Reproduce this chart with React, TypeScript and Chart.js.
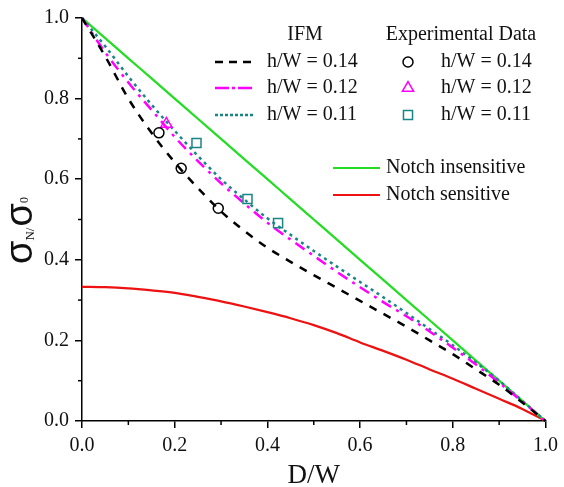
import React, { useEffect, useRef } from "react";
import { Chart, registerables } from "chart.js";

Chart.register(...registerables);

// ---- data ----
const xIFM = [0, 0.05, 0.1, 0.15, 0.2, 0.25, 0.3, 0.35, 0.4, 0.45, 0.5, 0.55, 0.6, 0.65, 0.7, 0.75, 0.8, 0.85, 0.9, 0.95, 1.0];
const yIFM014 = [1.0, 0.905, 0.8, 0.715, 0.642, 0.578, 0.52, 0.472, 0.43, 0.395, 0.362, 0.33, 0.298, 0.266, 0.234, 0.2, 0.166, 0.128, 0.09, 0.046, 0.0];
const yIFM012 = [1.0, 0.915, 0.84, 0.772, 0.705, 0.645, 0.59, 0.54, 0.492, 0.45, 0.41, 0.37, 0.332, 0.295, 0.26, 0.222, 0.182, 0.14, 0.095, 0.048, 0.0];
const yIFM011 = [1.0, 0.93, 0.855, 0.785, 0.72, 0.658, 0.6, 0.55, 0.503, 0.462, 0.422, 0.383, 0.345, 0.307, 0.268, 0.228, 0.188, 0.145, 0.1, 0.05, 0.0];
const xNotch = [0, 0.05, 0.1, 0.15, 0.2, 0.25, 0.3, 0.35, 0.4, 0.45, 0.5, 0.55, 0.6, 0.65, 0.7, 0.75, 0.8, 0.85, 0.9, 0.95, 1.0];
const yInsensitive = [1.0, 0.95, 0.9, 0.85, 0.8, 0.75, 0.7, 0.65, 0.6, 0.55, 0.5, 0.45, 0.4, 0.35, 0.3, 0.25, 0.2, 0.15, 0.1, 0.05, 0.0];
const ySensitive = [0.333, 0.332, 0.329, 0.324, 0.318, 0.308, 0.297, 0.284, 0.27, 0.255, 0.238, 0.218, 0.195, 0.174, 0.152, 0.128, 0.105, 0.08, 0.055, 0.03, 0.0];

const xExp014 = [0.166, 0.214, 0.294];
const yExp014 = [0.715, 0.627, 0.528];
const xExp012 = [0.182];
const yExp012 = [0.737];
const xExp011 = [0.247, 0.357, 0.423];
const yExp011 = [0.69, 0.551, 0.491];

const xTicks = [0, 0.2, 0.4, 0.6, 0.8, 1.0];
const yTicks = [0, 0.2, 0.4, 0.6, 0.8, 1.0];
const minorTicks = [0.1, 0.3, 0.5, 0.7, 0.9];

const ifmLabels = ["h/W = 0.14", "h/W = 0.12", "h/W = 0.11"];
const expLabels = ["h/W = 0.14", "h/W = 0.12", "h/W = 0.11"];
const notchLabels = ["Notch insensitive", "Notch sensitive"];

const pts = (xs: number[], ys: number[]) => xs.map((x, i) => ({ x, y: ys[i] }));

const BLACK = "#000000";
const MAGENTA = "#ff00ff";
const TEAL = "#1a8585";
const GREEN = "#22dd22";
const RED = "#ee1111";

const SERIF = "'Liberation Serif', 'Times New Roman', serif";
const SANS = "'Liberation Sans', Arial, sans-serif";

const lineStyles = [
  { color: BLACK, dash: [8, 8], legendDash: [8, 6] },
  { color: MAGENTA, dash: [11, 6, 3, 6], legendDash: [14, 3, 3, 3] },
  { color: TEAL, dash: [3, 4], legendDash: [3, 2] },
];
const markerStyles = [
  { color: BLACK, shape: "circle", r: 5 },
  { color: MAGENTA, shape: "triangle", r: 6.5 },
  { color: TEAL, shape: "rect", r: 6.4 },
];

function drawMarker(ctx: CanvasRenderingContext2D, shape: string, x: number, y: number, r: number) {
  ctx.beginPath();
  if (shape === "circle") {
    ctx.arc(x, y, r, 0, Math.PI * 2);
  } else if (shape === "triangle") {
    for (let i = 0; i < 3; i++) {
      const a = -Math.PI / 2 + (i * 2 * Math.PI) / 3;
      const px = x + Math.cos(a) * r;
      const py = y + Math.sin(a) * r;
      if (i === 0) ctx.moveTo(px, py);
      else ctx.lineTo(px, py);
    }
    ctx.closePath();
  } else {
    const s = Math.SQRT1_2 * r;
    ctx.rect(x - s, y - s, 2 * s, 2 * s);
  }
  ctx.stroke();
}

const decorPlugin = {
  id: "decor",
  afterDraw(chart: any) {
    const ctx: CanvasRenderingContext2D = chart.ctx;
    const xs = chart.scales.x;
    const ys = chart.scales.y;
    ctx.save();
    // minor ticks
    ctx.strokeStyle = "#000";
    ctx.lineWidth = 1.5;
    minorTicks.forEach((v) => {
      const px = xs.getPixelForValue(v);
      ctx.beginPath();
      ctx.moveTo(px, xs.top);
      ctx.lineTo(px, xs.top + 4);
      ctx.stroke();
      const py = ys.getPixelForValue(v);
      ctx.beginPath();
      ctx.moveTo(ys.right, py);
      ctx.lineTo(ys.right - 4, py);
      ctx.stroke();
    });

    // legend
    ctx.font = `20px ${SERIF}`;
    ctx.fillStyle = "#111";
    ctx.textBaseline = "middle";
    ctx.textAlign = "center";
    ctx.fillText("IFM", 305, 35);
    ctx.fillText("Experimental Data", 461, 35);
    ctx.textAlign = "left";
    const rows = [62, 88, 115];
    rows.forEach((ry, i) => {
      ctx.save();
      ctx.strokeStyle = lineStyles[i].color;
      ctx.lineWidth = 2.5;
      ctx.setLineDash(lineStyles[i].legendDash);
      ctx.beginPath();
      ctx.moveTo(215, ry);
      ctx.lineTo(253, ry);
      ctx.stroke();
      ctx.restore();
      ctx.fillText(ifmLabels[i], 267, ry);
      ctx.save();
      ctx.strokeStyle = markerStyles[i].color;
      ctx.lineWidth = 1.5;
      drawMarker(ctx, markerStyles[i].shape, 408, ry, markerStyles[i].r);
      ctx.restore();
      ctx.fillText(expLabels[i], 441, ry);
    });
    const nrows = [168, 195];
    const ncolors = [GREEN, RED];
    nrows.forEach((ry, i) => {
      ctx.save();
      ctx.strokeStyle = ncolors[i];
      ctx.lineWidth = 2;
      ctx.beginPath();
      ctx.moveTo(333, ry);
      ctx.lineTo(380, ry);
      ctx.stroke();
      ctx.restore();
      ctx.fillText(notchLabels[i], 386, ry);
    });

    // y title: σN/σ0
    ctx.save();
    ctx.translate(32, 264);
    ctx.rotate(-Math.PI / 2);
    ctx.textAlign = "left";
    ctx.textBaseline = "alphabetic";
    ctx.fillStyle = "#111";
    let cx = 0;
    ctx.font = `38px ${SANS}`;
    ctx.fillText("σ", cx, 0);
    cx += ctx.measureText("σ").width;
    ctx.font = `13px ${SERIF}`;
    ctx.fillText("N/", cx, 2);
    cx += ctx.measureText("N/").width + 1;
    ctx.font = `38px ${SANS}`;
    ctx.fillText("σ", cx, 0);
    cx += ctx.measureText("σ").width;
    ctx.font = `12px ${SERIF}`;
    ctx.fillText("0", cx, -4);
    ctx.restore();

    ctx.restore();
  },
};

export default function App() {
  const ref = useRef<HTMLCanvasElement | null>(null);
  useEffect(() => {
    document.body.style.margin = "0";
    const canvas = ref.current;
    if (!canvas) return;
    const lineDs = (label: string, xs: number[], ys: number[], color: string, dash: number[], width: number) => ({
      type: "line" as const,
      label,
      data: pts(xs, ys),
      borderColor: color,
      backgroundColor: color,
      borderWidth: width,
      borderDash: dash,
      pointRadius: 0,
      showLine: true,
      fill: false,
      cubicInterpolationMode: "monotone" as const,
      clip: false as any,
    });
    const chart = new Chart(canvas, {
      type: "scatter",
      data: {
        datasets: [
          {
            label: "Exp h/W = 0.14",
            data: pts(xExp014, yExp014),
            pointStyle: "circle",
            pointRadius: 5,
            borderColor: BLACK,
            borderWidth: 1.5,
            backgroundColor: "rgba(0,0,0,0)",
            clip: false as any,
          },
          {
            label: "Exp h/W = 0.12",
            data: pts(xExp012, yExp012),
            pointStyle: "triangle",
            pointRadius: 6.5,
            borderColor: MAGENTA,
            borderWidth: 1.5,
            backgroundColor: "rgba(0,0,0,0)",
            clip: false as any,
          },
          {
            label: "Exp h/W = 0.11",
            data: pts(xExp011, yExp011),
            pointStyle: "rect",
            pointRadius: 6.4,
            borderColor: TEAL,
            borderWidth: 1.5,
            backgroundColor: "rgba(0,0,0,0)",
            clip: false as any,
          },
          lineDs("IFM " + ifmLabels[0], xIFM, yIFM014, BLACK, lineStyles[0].dash, 2.5),
          lineDs("IFM " + ifmLabels[1], xIFM, yIFM012, MAGENTA, lineStyles[1].dash, 2.5),
          lineDs("IFM " + ifmLabels[2], xIFM, yIFM011, TEAL, lineStyles[2].dash, 2.5),
          lineDs(notchLabels[0], xNotch, yInsensitive, GREEN, [], 2.2),
          lineDs(notchLabels[1], xNotch, ySensitive, RED, [], 2.2),
        ] as any,
      },
      options: {
        animation: false,
        responsive: false,
        maintainAspectRatio: false,
        layout: { padding: { top: 18, right: 16, left: 0, bottom: 0 } },
        plugins: { legend: { display: false }, tooltip: { enabled: false } },
        scales: {
          x: {
            type: "linear",
            min: 0,
            max: 1,
            afterBuildTicks: (s: any) => {
              s.ticks = xTicks.map((v) => ({ value: v }));
            },
            afterFit: (s: any) => {
              s.height = 66;
            },
            border: { display: true, color: "#000", width: 1.5 },
            grid: { drawOnChartArea: false, drawTicks: true, tickLength: 7, color: "#000", lineWidth: 1.5 },
            ticks: {
              padding: 6,
              color: "#111",
              font: { family: SERIF, size: 20 },
              maxRotation: 0,
              callback: (v: any) => Number(v).toFixed(1),
            },
            title: {
              display: true,
              text: "D/W",
              color: "#111",
              font: { family: SERIF, size: 27, lineHeight: 1 },
              padding: { top: 0, bottom: -2 },
            },
          },
          y: {
            type: "linear",
            min: 0,
            max: 1,
            afterBuildTicks: (s: any) => {
              s.ticks = yTicks.map((v) => ({ value: v }));
            },
            afterFit: (s: any) => {
              s.width = 82;
            },
            border: { display: true, color: "#000", width: 1.5 },
            grid: { drawOnChartArea: false, drawTicks: true, tickLength: 7, color: "#000", lineWidth: 1.5 },
            ticks: {
              padding: 6,
              color: "#111",
              font: { family: SERIF, size: 20 },
              callback: (v: any) => Number(v).toFixed(1),
            },
          },
        },
      },
      plugins: [decorPlugin],
    } as any);
    return () => chart.destroy();
  }, []);
  return (
    <div style={{ width: 564, height: 487 }}>
      <canvas ref={ref} width={564} height={487} style={{ display: "block" }} />
    </div>
  );
}
